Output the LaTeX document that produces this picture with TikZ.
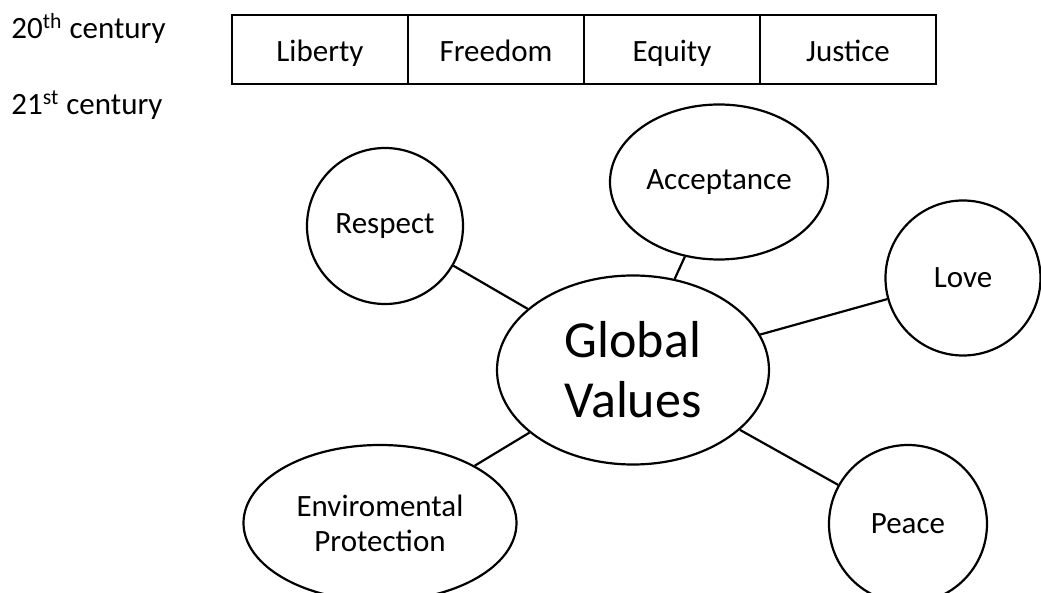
\documentclass[tikz,border=0pt]{standalone}
\usepackage{fontspec}
\setmainfont{Carlito}
\usetikzlibrary{shapes.geometric}
\begin{document}
\begin{tikzpicture}[x=0.5pt,y=-0.5pt,
  txt/.style={font=\fontsize{15.5}{17.5}\selectfont},
  cell/.style={txt,draw,line width=0.9pt,inner sep=0pt,outer sep=0pt,minimum width=88pt,minimum height=34.5pt,text height=14pt,text depth=1.5pt},
  bubble/.style={txt,draw,ellipse,line width=1.1pt,inner sep=0pt,align=center},
  ball/.style={txt,draw,circle,line width=1.1pt,inner sep=0pt}]
\clip (0,0) rectangle (1041,593);
\node[txt,anchor=base west,inner sep=0pt] (T1) at (11,39) {20\textsuperscript{th} century};
\node[txt,anchor=base west,inner sep=0pt] (T2) at (11,115) {21\textsuperscript{st} century};
\node[cell] (C1) at (320,49.5) {Liberty};
\node[cell] (C2) at (496,49.5) {Freedom};
\node[cell] (C3) at (672,49.5) {Equity};
\node[cell] (C4) at (848,49.5) {Justice};
\node[bubble,minimum width=136pt,minimum height=94.5pt,font=\fontsize{26}{30}\selectfont] (G) at (633,370) {Global\\Values};
\node[bubble,minimum width=109pt,minimum height=77.5pt] (A) at (719,182) {Acceptance};
\node[ball,minimum size=78pt] (R) at (385,226) {Respect};
\node[ball,minimum size=77.5pt] (L) at (963,278) {Love};
\node[ball,minimum size=79pt] (P) at (908,524) {Peace};
\node[bubble,minimum width=136.5pt,minimum height=78pt] (E) at (380,523) {Enviromental\\Protection};
\path[-,line width=1.1pt]
(G) edge (R)
(G) edge (A)
(G) edge (L)
(G) edge (E)
(G) edge (P);
\end{tikzpicture}
\end{document}
